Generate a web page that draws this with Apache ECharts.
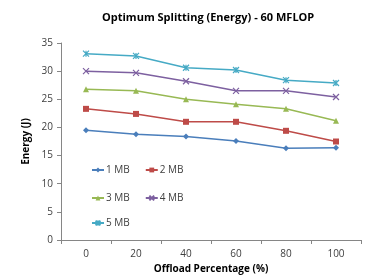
<!DOCTYPE html>
<html>
<head>
<meta charset="utf-8">
<script src="https://cdn.jsdelivr.net/npm/echarts@6/dist/echarts.min.js"></script>
<style>
    html, body { margin: 0; padding: 0; background: #fff; }
    #chart { width: 369px; height: 280px; }
</style>
</head>
<body>
<div id="chart"></div>
<script>
    // offload percentages (x categories)
    var offload = ['0', '20', '40', '60', '80', '100'];

    // energy (J) per data size
    var mb1 = [19.5, 18.8, 18.4, 17.6, 16.3, 16.4];
    var mb2 = [23.3, 22.4, 21.0, 21.0, 19.4, 17.5];
    var mb3 = [26.8, 26.5, 25.0, 24.1, 23.3, 21.2];
    var mb4 = [30.0, 29.7, 28.2, 26.5, 26.5, 25.4];
    var mb5 = [33.1, 32.7, 30.6, 30.2, 28.4, 27.9];

    var seriesNames = ['1 MB', '2 MB', '3 MB', '4 MB', '5 MB'];
    var seriesData = [mb1, mb2, mb3, mb4, mb5];
    var colors = ['#4a7ebb', '#be4b48', '#98b954', '#7d60a0', '#46aac5'];
    var crossPath = 'path://M0,0L10,10M10,0L0,10';
    var starPath = 'path://M0,0L10,10M10,0L0,10M5,0L5,10';
    var symbols = ['diamond', 'rect', 'triangle', crossPath, starPath];

    var font = 'Open Sans, Liberation Sans, sans-serif';
    var chart = echarts.init(document.getElementById('chart'));

    var series = [];
    for (var i = 0; i < seriesNames.length; i++) {
        var isPath = i >= 3;
        series.push({
            name: seriesNames[i],
            type: 'line',
            data: seriesData[i],
            symbol: symbols[i],
            symbolSize: 6,
            showAllSymbol: true,
            lineStyle: { color: colors[i], width: 1.5 },
            itemStyle: isPath ? { color: colors[i], borderColor: colors[i], borderWidth: 1.2 } : { color: colors[i], borderWidth: 0 },
            animation: false
        });
    }

    function legendRow(names, top) {
        return {
            data: names,
            left: 86,
            top: top,
            orient: 'horizontal',
            itemWidth: 12,
            itemHeight: 6,
            itemGap: 15,
            textStyle: { fontFamily: font, fontSize: 10, color: '#404040', padding: [0, 0, 0, -3] }
        };
    }

    chart.setOption({
        color: colors,
        title: {
            text: 'Optimum Splitting (Energy) - 60 MFLOP',
            left: 97,
            top: 7,
            textStyle: { fontFamily: font, fontSize: 11, fontWeight: 'bold', color: '#000' }
        },
        legend: [
            legendRow(['1 MB', '2 MB'], 160),
            legendRow(['3 MB', '4 MB'], 188),
            legendRow(['5 MB'], 213)
        ],
        grid: { left: 61, right: 8, top: 43, bottom: 40 },
        xAxis: {
            type: 'category',
            data: offload,
            boundaryGap: true,
            name: 'Offload Percentage (%)',
            nameLocation: 'middle',
            nameGap: 23,
            nameTextStyle: { fontFamily: font, fontSize: 10, fontWeight: 'bold', color: '#000' },
            axisLine: { lineStyle: { color: '#868686' } },
            axisTick: { show: true, length: 4, lineStyle: { color: '#868686' } },
            axisLabel: { fontFamily: font, fontSize: 10, color: '#404040', margin: 9 }
        },
        yAxis: {
            type: 'value',
            min: 0,
            max: 35,
            interval: 5,
            name: 'Energy (J)',
            nameLocation: 'middle',
            nameGap: 24,
            nameTextStyle: { fontFamily: font, fontSize: 10, fontWeight: 'bold', color: '#000' },
            axisLine: { show: true, lineStyle: { color: '#868686' } },
            axisTick: { show: true, length: 4, lineStyle: { color: '#868686' } },
            splitLine: { show: false },
            axisLabel: { fontFamily: font, fontSize: 10, color: '#404040', margin: 8 }
        },
        series: series
    });
</script>
</body>
</html>
